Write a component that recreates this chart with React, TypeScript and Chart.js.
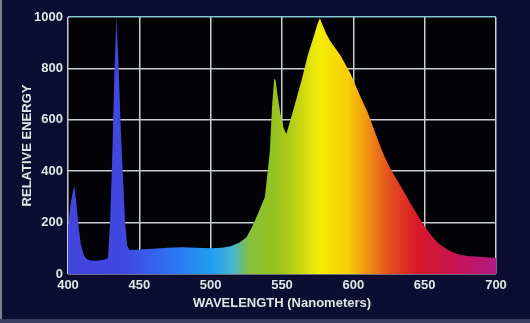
import { useEffect, useRef } from "react";
import { Chart, registerables } from "chart.js";

Chart.register(...registerables);

// Wavelength (nm) samples and relative energy
const wavelengths = [
  400, 401.5, 403, 404.5, 406, 407.5, 409, 411, 413, 416, 420, 424, 427,
  428, 429.5, 431, 432.5, 434, 435.5, 437, 438.5, 440, 441.5, 443,
  450, 460, 470, 480, 490, 500, 508, 514, 520, 525, 529, 532, 535, 538,
  540, 541.5, 543, 544.5, 545.5, 547, 549, 551, 553, 556, 560, 564, 568,
  572, 575, 576.5, 578, 581, 584, 591, 598, 605, 610, 614, 618, 622, 626,
  630, 636, 640, 645, 650, 655, 660, 665, 670, 675, 680, 690, 700,
];
const energy = [
  180, 260, 310, 340, 270, 180, 115, 74, 58, 53, 52, 54, 58,
  62, 200, 450, 780, 1000, 800, 560, 380, 200, 110, 93,
  95, 98, 102, 104, 102, 100, 102, 108, 122, 142, 183, 220, 260, 300,
  400, 480, 650, 760, 755, 690, 620, 570, 545, 600, 680, 760, 850,
  920, 975, 995, 975, 935, 905, 850, 780, 690, 630, 570, 510, 455, 410,
  372, 315, 275, 230, 185, 148, 118, 98, 84, 75, 70, 66, 62,
];

const xTickValues = [400, 450, 500, 550, 600, 650, 700];
const yTickValues = [0, 200, 400, 600, 800, 1000];

const xTitle = "WAVELENGTH (Nanometers)";
const yTitle = "RELATIVE ENERGY";

// Spectrum colour stops (wavelength -> colour)
const spectrumNm = [400, 440, 470, 500, 515, 527, 545, 562, 576, 597, 610, 625, 645, 675, 700];
const spectrumColors = [
  "#4444dc", "#4048e0", "#2f6ff0", "#1e9ef0", "#48b4d8", "#86c03a", "#94c21c",
  "#c6d412", "#f4ee06", "#f8cc06", "#f09014", "#e4501e", "#d81828", "#c41458", "#b21a86",
];

const labelColor = "#dfe6e6";
const gridColor = "#c6cece";
const topGridColor = "#86c8d2";

export default function App() {
  const canvasRef = useRef<HTMLCanvasElement | null>(null);

  useEffect(() => {
    const canvas = canvasRef.current;
    if (!canvas) return;

    const background = {
      id: "background",
      beforeDraw(chart: any) {
        const { ctx, chartArea, width, height } = chart;
        ctx.save();
        ctx.fillStyle = "#0d0d32";
        ctx.fillRect(0, 0, width, height);
        ctx.fillStyle = "#7c8494";
        ctx.fillRect(0, 0, 2, height);
        ctx.fillStyle = "#3a4260";
        ctx.fillRect(0, height - 4, width, 4);
        ctx.fillStyle = "#020207";
        ctx.fillRect(chartArea.left, chartArea.top, chartArea.right - chartArea.left, chartArea.bottom - chartArea.top);
        ctx.restore();
      },
    };

    const font = { family: "'Liberation Sans', Arial, sans-serif", size: 13, weight: "bold" as const };

    const chart = new Chart(canvas, {
      type: "line",
      data: {
        datasets: [
          {
            data: wavelengths.map((w, i) => ({ x: w, y: energy[i] })),
            fill: "origin",
            borderWidth: 0,
            pointRadius: 0,
            tension: 0,
            backgroundColor: (c: any) => {
              const { chart: ch } = c;
              const area = ch.chartArea;
              const xs = ch.scales.x;
              if (!area || !xs) return "#888";
              const g = ch.ctx.createLinearGradient(area.left, 0, area.right, 0);
              const span = area.right - area.left;
              spectrumNm.forEach((nm, i) => {
                const p = (xs.getPixelForValue(nm) - area.left) / span;
                g.addColorStop(Math.min(1, Math.max(0, p)), spectrumColors[i]);
              });
              return g;
            },
          },
        ],
      },
      options: {
        responsive: false,
        animation: false,
        devicePixelRatio: 1,
        layout: { padding: { top: 17, right: 34, left: 0, bottom: 0 } },
        plugins: { legend: { display: false }, tooltip: { enabled: false } },
        scales: {
          x: {
            type: "linear",
            min: 400,
            max: 700,
            afterBuildTicks: (s: any) => {
              s.ticks = xTickValues.map((v) => ({ value: v }));
            },
            afterFit: (s: any) => {
              s.height = 49;
            },
            ticks: { color: labelColor, font, padding: 4, maxRotation: 0, autoSkip: false, callback: (v: any) => String(v) },
            grid: { color: gridColor, lineWidth: 1.5, drawTicks: false },
            border: { display: false },
            title: { display: true, text: xTitle, color: labelColor, font, padding: { top: 0, bottom: 12 } },
          },
          y: {
            type: "linear",
            min: 0,
            max: 1000,
            afterBuildTicks: (s: any) => {
              s.ticks = yTickValues.map((v) => ({ value: v }));
            },
            afterFit: (s: any) => {
              s.width = 68;
            },
            ticks: { color: labelColor, font, padding: 5, callback: (v: any) => String(v) },
            grid: {
              color: (c: any) => (c.tick && c.tick.value === 1000 ? topGridColor : gridColor),
              lineWidth: 1.5,
              drawTicks: false,
            },
            border: { display: false },
            title: { display: true, text: yTitle, color: labelColor, font, padding: { top: 20, bottom: 0 } },
          },
        },
      },
      plugins: [background],
    } as any);

    return () => chart.destroy();
  }, []);

  return (
    <div style={{ position: "fixed", left: 0, top: 0, width: 530, height: 323 }}>
      <canvas ref={canvasRef} width={530} height={323} style={{ display: "block", width: 530, height: 323 }} />
    </div>
  );
}
